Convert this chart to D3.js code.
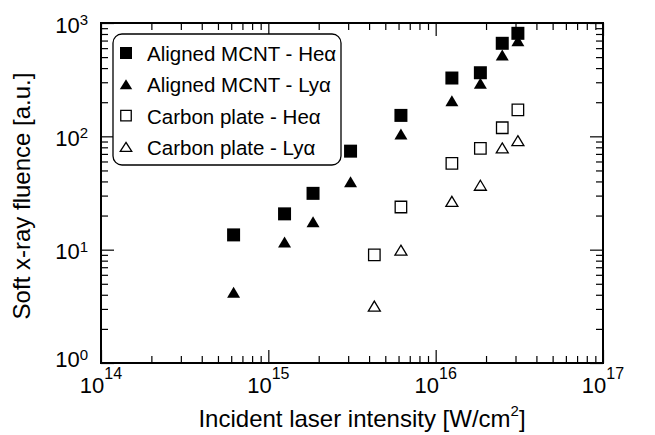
<!DOCTYPE html>
<html>
<head>
<meta charset="utf-8">
<script src="https://cdn.jsdelivr.net/npm/d3@7"></script>
<style>
  html, body { margin: 0; padding: 0; background: #fff; }
  svg { display: block; font-family: "Liberation Sans", Arial, Helvetica, sans-serif; }
</style>
</head>
<body>
<div id="chart"></div>
<script>
// Soft x-ray fluence vs incident laser intensity (log-log scatter)

const xMajorTicks = [1e14, 1e15, 1e16, 1e17]
const yMajorTicks = [1, 10, 100, 1000]

// aligned MCNT target
const mcntIntensity = [6.2e14, 1.25e15, 1.85e15, 3.1e15, 6.2e15, 1.25e16, 1.85e16, 2.5e16, 3.1e16]
const mcntHe = [13.5, 20.7, 31.4, 74, 153, 327, 364, 662, 811]
const mcntLy = [4.2, 11.7, 17.6, 39.8, 105, 206, 294, 522, 698]

// carbon plate target
const carbonIntensity = [4.3e15, 6.2e15, 1.25e16, 1.85e16, 2.5e16, 3.1e16]
const carbonHe = [9.0, 23.8, 57.8, 78.4, 119, 171]
const carbonLy = [3.18, 9.9, 26.7, 37, 79, 91.5]

const seriesNames = ["Aligned MCNT - Heα", "Aligned MCNT - Lyα", "Carbon plate - Heα", "Carbon plate - Lyα"]

const width = 655
const height = 435
const margin = { top: 23, right: 52, bottom: 72, left: 101 }
const plotW = width - margin.left - margin.right
const plotH = height - margin.top - margin.bottom

const svg = d3.select("#chart")
  .append("svg")
  .attr("width", width)
  .attr("height", height)

const g = svg.append("g")
  .attr("transform", `translate(${margin.left},${margin.top})`)

const x = d3.scaleLog().domain([1e14, 1e17]).range([0, plotW])
const y = d3.scaleLog().domain([1, 1000]).range([plotH, 0])

// minor ticks 2..9 per decade
const minorOf = (majors) => {
  const out = []
  majors.slice(0, -1).forEach(m => {
    for (let k = 2; k <= 9; k++) out.push(m * k)
  })
  return out
}
const xMinor = minorOf(xMajorTicks)
const yMinor = minorOf(yMajorTicks)

const majorLen = 13
const minorLen = 7

function drawAxis(axisFn, scale, values, len, transform) {
  const a = g.append("g")
    .attr("transform", transform)
    .call(axisFn(scale).tickValues(values).tickSize(-len).tickFormat(""))
  a.select(".domain").remove()
  a.selectAll("line").attr("stroke", "#000").attr("stroke-width", 1.2)
}

drawAxis(d3.axisBottom, x, xMajorTicks, majorLen, `translate(0,${plotH})`)
drawAxis(d3.axisBottom, x, xMinor, minorLen, `translate(0,${plotH})`)
drawAxis(d3.axisTop, x, xMajorTicks, majorLen, "translate(0,0)")
drawAxis(d3.axisTop, x, xMinor, minorLen, "translate(0,0)")
drawAxis(d3.axisLeft, y, yMajorTicks, majorLen, "translate(0,0)")
drawAxis(d3.axisLeft, y, yMinor, minorLen, "translate(0,0)")
drawAxis(d3.axisRight, y, yMajorTicks, majorLen, `translate(${plotW},0)`)
drawAxis(d3.axisRight, y, yMinor, minorLen, `translate(${plotW},0)`)

// frame
g.append("rect")
  .attr("width", plotW)
  .attr("height", plotH)
  .attr("fill", "none")
  .attr("stroke", "#000")
  .attr("stroke-width", 2)

// tick labels with superscript exponents
const expOf = v => Math.round(Math.log10(v))

xMajorTicks.forEach(v => {
  const t = g.append("text")
    .attr("x", x(v))
    .attr("y", plotH + 30)
    .attr("text-anchor", "middle")
    .attr("font-size", 22)
    .attr("fill", "#000")
  t.append("tspan").text("10")
  t.append("tspan").attr("font-size", 16).attr("dy", -14).text(expOf(v))
})

yMajorTicks.forEach((v, i) => {
  const t = g.append("text")
    .attr("x", -13)
    .attr("y", y(v) + (i === 0 ? 4 : 9.5))
    .attr("text-anchor", "end")
    .attr("font-size", 22)
    .attr("fill", "#000")
  t.append("tspan").text("10")
  t.append("tspan").attr("font-size", 15).attr("dy", -7.5).text(expOf(v))
})

// axis titles
const xTitle = svg.append("text")
  .attr("x", 362)
  .attr("y", 427)
  .attr("text-anchor", "middle")
  .attr("font-size", 24)
  .attr("fill", "#000")
xTitle.append("tspan").text("Incident laser intensity [W/cm")
xTitle.append("tspan").attr("font-size", 15).attr("dy", -11).text("2")
xTitle.append("tspan").attr("dy", 11).text("]")

svg.append("text")
  .attr("transform", "translate(30,196) rotate(-90)")
  .attr("text-anchor", "middle")
  .attr("font-size", 24)
  .attr("fill", "#000")
  .text("Soft x-ray fluence [a.u.]")

// markers
const square = s => `M${-s / 2},${-s / 2}h${s}v${s}h${-s}Z`
const triangle = (w, h) => `M0,${-h / 2}L${w / 2},${h / 2}L${-w / 2},${h / 2}Z`

const styles = [
  { path: square(13), fill: "#000", stroke: "none" },
  { path: triangle(13, 11), fill: "#000", stroke: "none" },
  { path: square(11.5), fill: "#fff", stroke: "#000" },
  { path: triangle(12, 10), fill: "#fff", stroke: "#000" }
]
const legendStyles = [
  { path: square(12), fill: "#000", stroke: "none" },
  { path: triangle(12.5, 10), fill: "#000", stroke: "none" },
  { path: square(10.5), fill: "#fff", stroke: "#000" },
  { path: triangle(11.5, 9), fill: "#fff", stroke: "#000" }
]

const series = [
  { xs: carbonIntensity, ys: carbonHe, style: styles[2] },
  { xs: carbonIntensity, ys: carbonLy, style: styles[3] },
  { xs: mcntIntensity, ys: mcntLy, style: styles[1] },
  { xs: mcntIntensity, ys: mcntHe, style: styles[0] }
]

series.forEach(s => {
  g.append("g")
    .selectAll("path")
    .data(s.ys.map((v, i) => [s.xs[i], v]))
    .join("path")
    .attr("d", s.style.path)
    .attr("transform", d => `translate(${x(d[0])},${y(d[1])})`)
    .attr("fill", s.style.fill)
    .attr("stroke", s.style.stroke)
    .attr("stroke-width", 1.3)
})

// legend
const legend = svg.append("g").attr("transform", "translate(113,34)")
legend.append("rect")
  .attr("width", 228)
  .attr("height", 131)
  .attr("rx", 9)
  .attr("fill", "#fff")
  .attr("stroke", "#000")
  .attr("stroke-width", 1.3)

legend.selectAll("g.row")
  .data(seriesNames)
  .join("g")
  .attr("class", "row")
  .attr("transform", (d, i) => `translate(0,${19 + i * 31.3})`)
  .each(function(name, i) {
    const row = d3.select(this)
    row.append("path")
      .attr("d", legendStyles[i].path)
      .attr("transform", "translate(13,0)")
      .attr("fill", legendStyles[i].fill)
      .attr("stroke", legendStyles[i].stroke)
      .attr("stroke-width", 1.3)
    row.append("text")
      .attr("x", 34)
      .attr("y", 8)
      .attr("font-size", 20.5)
      .attr("fill", "#000")
      .text(name)
  })
</script>
</body>
</html>
